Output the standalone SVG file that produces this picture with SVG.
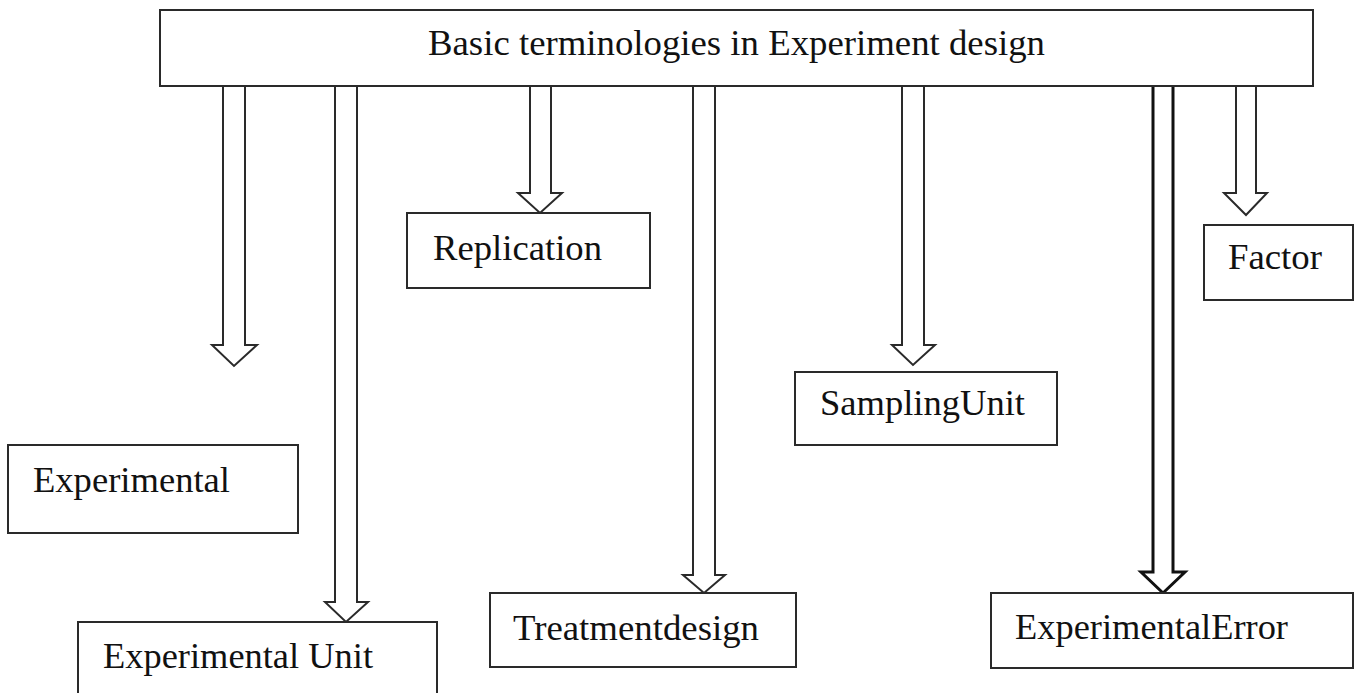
<svg xmlns="http://www.w3.org/2000/svg" width="1355" height="693" viewBox="0 0 1355 693">
<style>
.box{fill:#fff;stroke:#2a2a2a;stroke-width:2}
.arr{fill:#fff;stroke:#2a2a2a;stroke-width:2;stroke-linejoin:miter}
.arr.bold{stroke:#111;stroke-width:3}
.lbl{font-family:"Liberation Serif","Times New Roman",serif;font-size:35px;fill:#111}
</style>
<rect width="1355" height="693" fill="#fff"/>
<g id="connectors">
<path class="arr" d="M223,86 V345 H212 L234,366 L257,345 H245 V86"/>
<path class="arr" d="M335,86 V602 H325 L346,622 L368,602 H357 V86"/>
<path class="arr" d="M530,86 V193 H518 L540,213 L562,193 H551 V86"/>
<path class="arr" d="M693,86 V575 H683 L704,593 L725,575 H715 V86"/>
<path class="arr" d="M902,86 V345 H892 L913,365 L935,345 H924 V86"/>
<path class="arr bold" d="M1153,86 V572 H1141 L1163,593 L1185,572 H1173 V86"/>
<path class="arr" d="M1236,86 V193 H1224 L1246,215 L1267,193 H1256 V86"/>
</g>
<g id="title">
<rect class="box" x="160" y="10" width="1153" height="76"/>
<text class="lbl" x="428" y="55" textLength="617" lengthAdjust="spacingAndGlyphs">Basic terminologies in Experiment design</text>
</g>
<g id="experimental">
<rect class="box" x="8" y="445" width="290" height="88"/>
<text class="lbl" x="33" y="492" textLength="197" lengthAdjust="spacingAndGlyphs">Experimental</text>
</g>
<g id="experimental-unit">
<rect class="box" x="78" y="622" width="359" height="80"/>
<text class="lbl" x="103" y="668" textLength="270" lengthAdjust="spacingAndGlyphs">Experimental Unit</text>
</g>
<g id="replication">
<rect class="box" x="407" y="213" width="243" height="75"/>
<text class="lbl" x="433" y="260" textLength="169" lengthAdjust="spacingAndGlyphs">Replication</text>
</g>
<g id="treatment-design">
<rect class="box" x="490" y="593" width="306" height="74"/>
<text class="lbl" x="513" y="640" textLength="246" lengthAdjust="spacingAndGlyphs">Treatmentdesign</text>
</g>
<g id="sampling-unit">
<rect class="box" x="795" y="372" width="262" height="73"/>
<text class="lbl" x="820" y="415" textLength="205" lengthAdjust="spacingAndGlyphs">SamplingUnit</text>
</g>
<g id="factor">
<rect class="box" x="1204" y="225" width="149" height="75"/>
<text class="lbl" x="1228" y="269" textLength="94" lengthAdjust="spacingAndGlyphs">Factor</text>
</g>
<g id="experimental-error">
<rect class="box" x="991" y="593" width="362" height="75"/>
<text class="lbl" x="1015" y="639" textLength="273" lengthAdjust="spacingAndGlyphs">ExperimentalError</text>
</g>
</svg>
